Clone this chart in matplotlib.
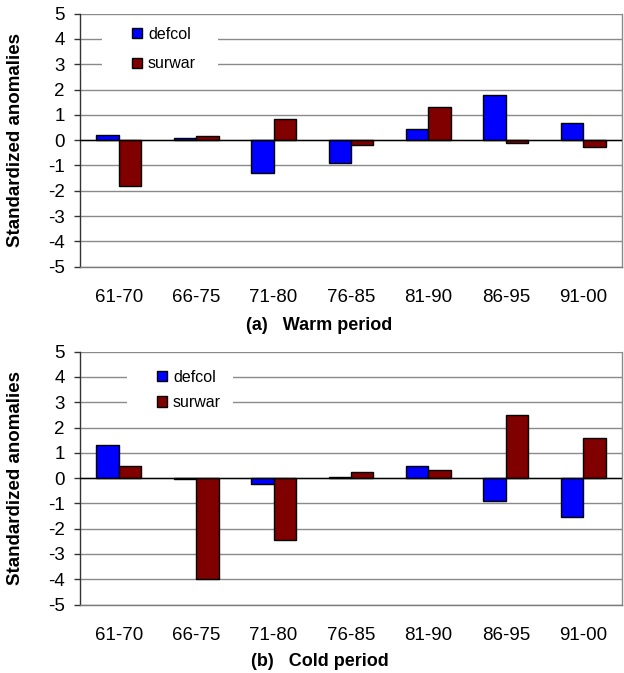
import numpy as np
import matplotlib
matplotlib.use("Agg")
import matplotlib.pyplot as plt
from matplotlib.patches import Rectangle

plt.rcParams['font.family'] = ['Liberation Sans', 'DejaVu Sans']
plt.rcParams['axes.unicode_minus'] = False

periods = ["61-70", "66-75", "71-80", "76-85", "81-90", "86-95", "91-00"]
series_names = ["defcol", "surwar"]

warm_defcol = [0.2, 0.1, -1.3, -0.9, 0.45, 1.78, 0.68]
warm_surwar = [-1.82, 0.15, 0.82, -0.2, 1.3, -0.1, -0.28]

cold_defcol = [1.3, -0.05, -0.25, 0.05, 0.48, -0.9, -1.52]
cold_surwar = [0.48, -4.0, -2.45, 0.25, 0.33, 2.5, 1.58]

captions = ["(a)   Warm period", "(b)   Cold period"]
yticks = list(range(-5, 6))

colors = ["#0000FF", "#800000"]

W, H = 624, 673
fig = plt.figure(figsize=(W / 100, H / 100), dpi=100)

def px_axes(left, top, right, bottom):
    return fig.add_axes([left / W, 1 - bottom / H, (right - left) / W, (bottom - top) / H])

panels = [
    dict(top=13.7, bottom=266.7, d=warm_defcol, s=warm_surwar, cap=captions[0], capy=325,
         box=(102, 218), rows=(36, 63), lspace=0.9),
    dict(top=351.7, bottom=604.5, d=cold_defcol, s=cold_surwar, cap=captions[1], capy=662,
         box=(127, 233), rows=(379, 402), lspace=0.63),
]

left, right = 80, 622
bw = 0.29
x = np.arange(len(periods))

for p in panels:
    ax = px_axes(left, p['top'], right, p['bottom'])
    ax.bar(x - bw / 2, p['d'], width=bw, color=colors[0], edgecolor='black', linewidth=1.0,
           label=series_names[0], zorder=3)
    ax.bar(x + bw / 2, p['s'], width=bw, color=colors[1], edgecolor='black', linewidth=1.0,
           label=series_names[1], zorder=3)
    ax.axhline(0, color='black', lw=1.0, zorder=4)
    ax.set_xlim(-0.5, len(periods) - 0.5)
    ax.set_ylim(-5, 5)
    ax.set_yticks(yticks)
    ax.set_yticklabels([str(v) for v in yticks])
    ax.set_xticks(x)
    ax.set_xticklabels(periods)
    ax.yaxis.grid(True, color='#8a8a8a', lw=1.0, zorder=0)
    ax.set_axisbelow(True)
    ax.spines['top'].set_visible(False)
    ax.spines['right'].set_color('#8a8a8a')
    ax.spines['bottom'].set_color('#7a7a7a')
    ax.spines['left'].set_color('#333333')
    for sp in ax.spines.values():
        sp.set_linewidth(1.0)
    ax.tick_params(axis='y', direction='out', length=4, width=1, color='#333333',
                   labelsize=13.5, pad=7)
    ax.tick_params(axis='x', length=0, labelsize=13.5, pad=16)
    ax.set_ylabel("Standardized anomalies", fontsize=13.5, fontweight='bold')
    ax.yaxis.set_label_coords(-(left - 24) / (right - left), 0.5)

    # white backing box behind legend
    ph = p['bottom'] - p['top']
    bx0, bx1 = p['box']
    r0, r1 = p['rows']
    rect = Rectangle(((bx0 - left) / (right - left), 1 - (r1 + 14 - p['top']) / ph),
                     (bx1 - bx0) / (right - left), (r1 - r0 + 28) / ph,
                     transform=ax.transAxes, facecolor='white', edgecolor='none', zorder=1)
    ax.add_patch(rect)
    hx = bx0 + 30
    leg = ax.legend(loc='upper left',
                    bbox_to_anchor=((hx - left) / (right - left), 1 - (r0 - 9 - p['top']) / ph),
                    frameon=False, fontsize=11.5, handlelength=0.6, handleheight=0.6,
                    handletextpad=0.4, borderpad=0, borderaxespad=0, labelspacing=p['lspace'])
    leg.set_zorder(5)

    fig.text(319.5 / W, 1 - p['capy'] / H, p['cap'], ha='center', va='center',
             fontsize=13, fontweight='bold')

fig.savefig("out.png", dpi=100)
